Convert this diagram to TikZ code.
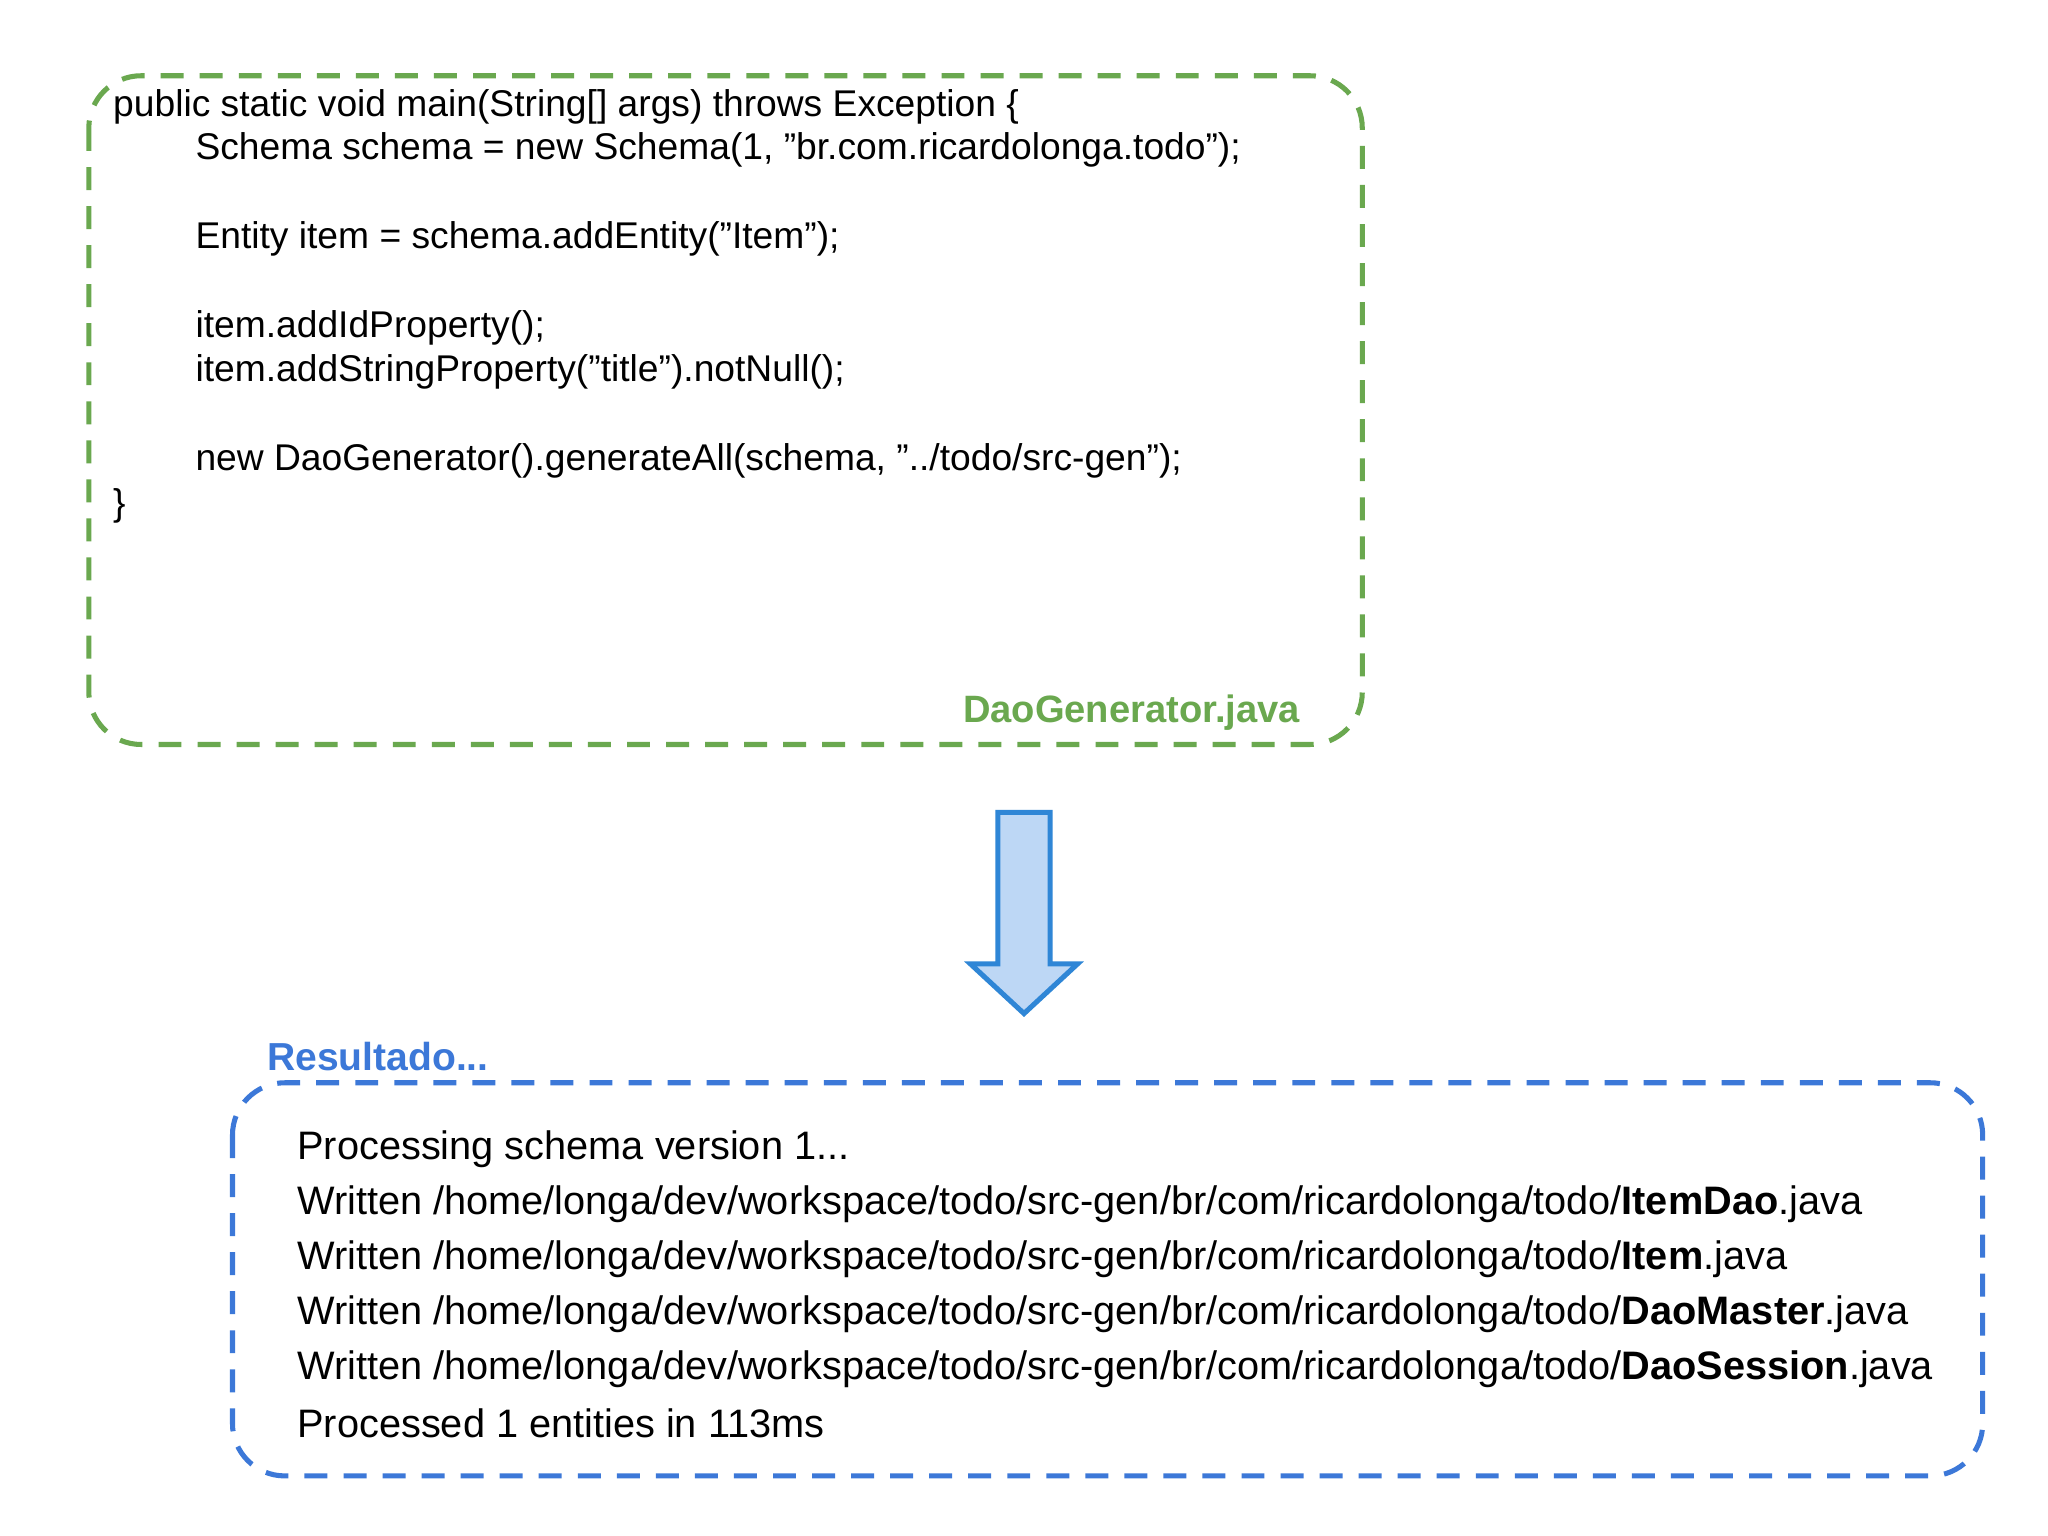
\documentclass[tikz,border=0pt]{standalone}
\usepackage{fontspec}
\setmainfont{Liberation Sans}[Ligatures=NoCommon]
\newcommand{\dq}{\char34\relax}
\definecolor{gr}{HTML}{6AA84F}
\definecolor{bl}{HTML}{3C78D8}
\definecolor{arf}{HTML}{BDD7F5}
\definecolor{arb}{HTML}{2F86D6}
\begin{document}
\begin{tikzpicture}[x=0.01cm,y=-0.01cm,
  code/.style={anchor=west,inner sep=0pt,font=\fontsize{8.1}{10}\selectfont},
  res/.style={anchor=west,inner sep=0pt,font=\fontsize{8.65}{10}\selectfont},
  box/.style={dashed,line width=1.1pt,rounded corners=0.4cm,dash pattern=on 5pt off 3.5pt}]
\useasboundingbox[fill=white] (0,0) rectangle (1568,1176);
\draw[box,gr] (68,58) rectangle (1043,570);
\node[code] (c1) at (86,82) {public static void main(String[] args) throws Exception \{};
\node[code] (c2) at (149,115) {Schema schema = new Schema(1, \dq br.com.ricardolonga.todo\dq);};
\node[code] (c3) at (149,183) {Entity item = schema.addEntity(\dq Item\dq);};
\node[code] (c4) at (149,251) {item.addIdProperty();};
\node[code] (c5) at (149,285) {item.addStringProperty(\dq title\dq).notNull();};
\node[code] (c6) at (149,353) {new DaoGenerator().generateAll(schema, \dq../todo/src-gen\dq);};
\node[code] (c7) at (86,387) {\}};
\node[code,anchor=east,text=gr,font=\fontsize{8.3}{10}\selectfont\bfseries] (fn) at (996,546) {DaoGenerator.java};
\draw[arb,fill=arf,line width=1.1pt] (764,622) -- (804,622) -- (804,738) -- (825,738) -- (784,776) -- (743,738) -- (764,738) -- cycle;
\node[res,text=bl,font=\fontsize{8.5}{10}\selectfont\bfseries] (rl) at (204,809) {Resultado...};
\draw[box,bl] (178,829) rectangle (1518,1130);
\node[res] (r1) at (227,880) {Processing schema version 1...};
\node[res] (r2) at (227,922) {Written /home/longa/dev/workspace/todo/src-gen/br/com/ricardolonga/todo/\textbf{ItemDao}.java};
\node[res] (r3) at (227,964) {Written /home/longa/dev/workspace/todo/src-gen/br/com/ricardolonga/todo/\textbf{Item}.java};
\node[res] (r4) at (227,1006) {Written /home/longa/dev/workspace/todo/src-gen/br/com/ricardolonga/todo/\textbf{DaoMaster}.java};
\node[res] (r5) at (227,1048) {Written /home/longa/dev/workspace/todo/src-gen/br/com/ricardolonga/todo/\textbf{DaoSession}.java};
\node[res] (r6) at (227,1090) {Processed 1 entities in 113ms};
\end{tikzpicture}
\end{document}
